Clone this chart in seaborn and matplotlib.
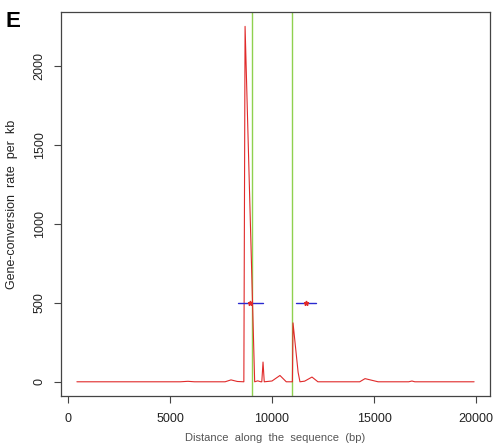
import matplotlib
matplotlib.use('Agg')
import matplotlib.pyplot as plt
import seaborn as sns
import pandas as pd

# posição (bp) e taxa de conversão gênica por kb
posicao = [436, 5500, 5880, 6200, 7700, 7990, 8300, 8620, 8680, 9150,
           9300, 9450, 9500, 9560, 9620, 10000, 10390, 10700, 11000, 11030,
           11280, 11370, 11600, 11960, 12250, 14300, 14560, 15200, 16700, 16860,
           17000, 19907]
taxa = [0, 0, 3, 0, 0, 12, 2, 0, 2251, 0,
        6, 0, 0, 125, 0, 5, 40, 0, 0, 373,
        60, 0, 4, 30, 0, 0, 20, 0, 0, 5,
        0, 0]

limites_verdes = [9000, 11000]

# intervalos (início, fim, ponto central) na altura 500
intervalo_ini = [8330, 11180]
intervalo_fim = [9560, 12160]
intervalo_meio = [8920, 11670]
intervalo_y = [500, 500]

xticks = [0, 5000, 10000, 15000, 20000]
yticks = [0, 500, 1000, 1500, 2000]

sns.set_theme(style='ticks')
plt.rcParams['font.family'] = ['Liberation Sans', 'DejaVu Sans']

df = pd.DataFrame({'pos': posicao, 'taxa': taxa})

fig = plt.figure(figsize=(4.94, 4.44), dpi=100)
ax = fig.add_axes([61 / 494, 48 / 444, 429 / 494, 384 / 444])

for xv in limites_verdes:
    ax.axvline(xv, color='#8fd14f', linewidth=1.0, zorder=1)

sns.lineplot(data=df, x='pos', y='taxa', sort=False, color='#e02a2a',
             linewidth=0.8, ax=ax, zorder=3)

for a, b, m, yv in zip(intervalo_ini, intervalo_fim, intervalo_meio, intervalo_y):
    ax.plot([a, b], [yv, yv], color='#2a2ad0', linewidth=1.0, zorder=4)
    ax.plot([m], [yv], marker='*', color='#e02a2a', markersize=3.5, zorder=5)

ax.set_xlim(-343, 20686)
ax.set_ylim(-90, 2342)
ax.set_xticks(xticks)
ax.set_yticks(yticks)
ax.set_xticklabels([str(t) for t in xticks])
ax.set_yticklabels([str(t) for t in yticks], rotation=90, va='center')

for sp in ax.spines.values():
    sp.set_visible(True)
    sp.set_color('#444444')
    sp.set_linewidth(0.9)

ax.tick_params(axis='both', direction='out', length=5, width=0.8,
               color='#444444', labelsize=9, labelcolor='#222222')
ax.tick_params(axis='x', pad=7)
ax.tick_params(axis='y', pad=6)

ax.set_ylabel('Gene-conversion  rate  per  kb', fontsize=9, color='#222222',
              labelpad=11)
ax.set_xlabel('')

fig.text(275 / 494, 1 / 444, 'Distance  along  the  sequence  (bp)',
         ha='center', va='bottom', fontsize=8, color='#555555')
fig.text(5 / 494, 1 - 11 / 444, 'E', ha='left', va='top', fontsize=16,
         fontweight='bold', color='black')

fig.savefig('out.png', dpi=100)
